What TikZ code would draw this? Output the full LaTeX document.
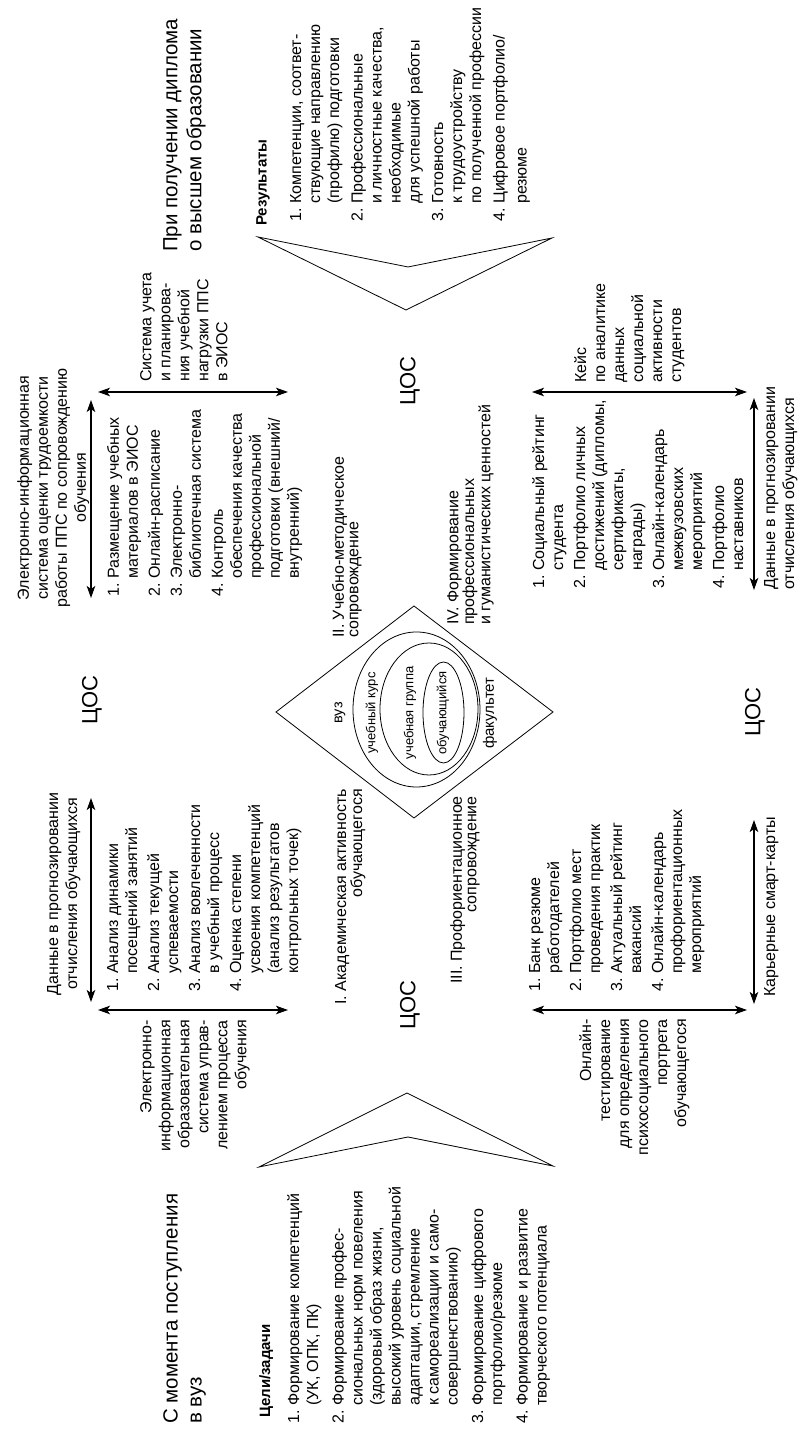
\documentclass[tikz,border=0pt]{standalone}
\usepackage{fontspec}
\setmainfont{Liberation Sans}
\usetikzlibrary{arrows.meta}

\newcommand{\lnum}[1]{\makebox[18pt][l]{#1}}
\newcommand{\lind}{\hspace*{18pt}}

\begin{document}
\begin{tikzpicture}[x=1pt, y=1pt, rotate=90, transform shape,
    txt/.style={inner sep=0pt, font=\fontsize{16}{19}\selectfont},
    stage/.style={inner sep=0pt, font=\fontsize{16}{14.5}\selectfont},
    head/.style={inner sep=0pt, font=\fontsize{20.5}{24}\selectfont, align=left, anchor=north west},
    sub/.style={inner sep=0pt, font=\fontsize{15}{18}\selectfont\bfseries, anchor=north west},
    cos/.style={inner sep=0pt, font=\fontsize{22}{24}\selectfont},
    lvl/.style={inner sep=0pt, font=\fontsize{13}{15}\selectfont},
    dbl/.style={line width=1.2pt, {Stealth[length=12pt,width=8.5pt,inset=3pt]}-{Stealth[length=12pt,width=8.5pt,inset=3pt]}},
    outline/.style={line width=0.8pt, line join=miter}]
\useasboundingbox (0,0) rectangle (1444,799);

\node[head] (startT) at (20,636) {С момента поступления\\в вуз};
\node[head] (endT) at (1192,636) {При получении диплома\\о высшем образовании};

\node[sub] (goalH) at (26,540) {Цели/задачи};
\node[txt, align=left, anchor=north west] (goalL) at (20,512) {%
  \lnum{1.}Формирование компетенций\\
  \lind(УК, ОПК, ПК)\\[6.5pt]
  \lnum{2.}Формирование профес-\\
  \lind сиональных норм повеления\\
  \lind(здоровый образ жизни,\\
  \lind высокий уровень социальной\\
  \lind адаптации, стремление\\
  \lind к самореализации и само-\\
  \lind совершенствованию)\\[6.5pt]
  \lnum{3.}Формирование цифрового\\
  \lind портфолио/резюме\\[6.5pt]
  \lnum{4.}Формирование и развитие\\
  \lind творческого потенциала};

\node[sub] (resH) at (1218,543) {Результаты};
\node[txt, align=left, anchor=north west] (resL) at (1222,509) {%
  \lnum{1.}Компетенции, соответ-\\
  \lind ствующие направлению\\
  \lind(профилю) подготовки\\[4.5pt]
  \lnum{2.}Профессиональные\\
  \lind и личностные качества,\\
  \lind необходимые\\
  \lind для успешной работы\\[4.5pt]
  \lnum{3.}Готовность\\
  \lind к трудоустройству\\
  \lind по полученной профессии\\[4.5pt]
  \lnum{4.}Цифровое портфолио/\\[3pt]
  \lind резюме};

\draw[outline] (277,540) -- (351,392) -- (278,246) -- (307,391) -- cycle;
\draw[outline] (1207,541) -- (1134,393) -- (1206,247) -- (1177,391) -- cycle;

\draw[outline] (732,523) -- (838,385) -- (732,246) -- (626,385) -- cycle;
\draw[outline] (734.5,382.5) ellipse [x radius=77.5, y radius=63.5];
\draw[outline] (735,370) ellipse [x radius=66, y radius=49];
\draw[outline] (731.5,355.5) ellipse [x radius=50.5, y radius=20.5];
\node[lvl, font=\fontsize{14.5}{16}\selectfont] (vuz) at (731,459) {вуз};
\node[lvl] (kurs) at (731,427) {учебный курс};
\node[lvl] (gruppa) at (731,389) {учебная группа};
\node[lvl] (stud) at (731,356) {обучающийся};
\node[lvl, font=\fontsize{15}{16}\selectfont] (fak) at (731,309) {факультет};

\node[stage, align=right, anchor=north east] (st1) at (655,464) {I. Академическая активность\\обучающегося};
\node[stage, align=left, anchor=north west] (st2) at (806,467) {II. Учебно-методическое\\сопровождение};
\node[stage, align=right, anchor=north east] (st3) at (648,349) {III. Профориентационное\\сопровождение};
\node[stage, align=left, anchor=north west] (st4) at (819,352) {IV. Формирование\\профессиональных\\и гуманистических ценностей};

\node[cos] (cosL) at (439,389) {ЦОС};
\node[cos] (cosR) at (1063,389) {ЦОС};
\node[cos] (cosT) at (744,707) {ЦОС};
\node[cos] (cosB) at (732,44) {ЦОС};

\coordinate (tlA) at (442,708); \coordinate (tlB) at (646,708);
\coordinate (tlC) at (434,511); \coordinate (tlD) at (434,701);
\draw[dbl] (tlA) -- (tlB);
\draw[dbl] (tlC) -- (tlD);
\node[txt, align=center, anchor=north] (tlTop) at (550,752) {Данные в прогнозировании\\отчисления обучающихся};
\node[txt, align=right, anchor=north east] (tlSide) at (424,659) {Электронно-\\информационная\\образовательная\\система управ-\\лением процесса\\обучения};
\node[txt, align=left, anchor=north west] (tlList) at (452,692) {%
  \lnum{1.}Анализ динамики\\
  \lind посещений занятий\\[3pt]
  \lnum{2.}Анализ текущей\\
  \lind успеваемости\\[3pt]
  \lnum{3.}Анализ вовлеченности\\
  \lind в учебный процесс\\[3pt]
  \lnum{4.}Оценка степени\\
  \lind усвоения компетенций\\
  \lind(анализ результатов\\
  \lind контрольных точек)};

\coordinate (trA) at (846,708); \coordinate (trB) at (1044,708);
\coordinate (trC) at (1052,511); \coordinate (trD) at (1052,701);
\draw[dbl] (trA) -- (trB);
\draw[dbl] (trC) -- (trD);
\node[txt, align=center, anchor=north] (trTop) at (956,782) {Электронно-информационная\\система оценки трудоемкости\\работы ППС по сопровождению\\обучения};
\node[txt, align=left, anchor=north west] (trSide) at (1062,659) {Система учета\\и планирова-\\ния учебной\\нагрузки ППС\\в ЭИОС};
\node[txt, align=left, anchor=north west] (trList) at (847,692) {%
  \lnum{1.}Размещение учебных\\
  \lind материалов в ЭИОС\\[3pt]
  \lnum{2.}Онлайн-расписание\\[3pt]
  \lnum{3.}Электронно-\\
  \lind библиотечная система\\[3pt]
  \lnum{4.}Контроль\\
  \lind обеспечения качества\\
  \lind профессиональной\\
  \lind подготовки (внешний/\\
  \lind внутренний)};

\coordinate (blA) at (440,45); \coordinate (blB) at (624,45);
\coordinate (blC) at (434,52); \coordinate (blD) at (434,267);
\draw[dbl] (blA) -- (blB);
\draw[dbl] (blC) -- (blD);
\node[txt, anchor=north] (blBot) at (537,35) {Карьерные смарт-карты};
\node[txt, align=right, anchor=north east] (blSide) at (425,220) {Онлайн-\\тестирование\\для определения\\психосоциального\\портрета\\обучающегося};
\node[txt, align=left, anchor=north west] (blList) at (452,270) {%
  \lnum{1.}Банк резюме\\
  \lind работодателей\\[3pt]
  \lnum{2.}Портфолио мест\\
  \lind проведения практик\\[3pt]
  \lnum{3.}Актуальный рейтинг\\
  \lind вакансий\\[3pt]
  \lnum{4.}Онлайн-календарь\\
  \lind профориентационных\\
  \lind мероприятий};

\coordinate (brA) at (854,45); \coordinate (brB) at (1046,45);
\coordinate (brC) at (1052,52); \coordinate (brD) at (1052,267);
\draw[dbl] (brA) -- (brB);
\draw[dbl] (brC) -- (brD);
\node[txt, align=left, anchor=north west] (brBot) at (854,35) {Данные в прогнозировании\\отчисления обучающихся};
\node[txt, align=left, anchor=north west] (brSide) at (1061,225) {Кейс\\по аналитике\\данных\\социальной\\активности\\студентов};
\node[txt, align=left, anchor=north west] (brList) at (855,267) {%
  \lnum{1.}Социальный рейтинг\\
  \lind студента\\[3pt]
  \lnum{2.}Портфолио личных\\
  \lind достижений (дипломы,\\
  \lind сертификаты,\\
  \lind награды)\\[3pt]
  \lnum{3.}Онлайн-календарь\\
  \lind межвузовских\\
  \lind мероприятий\\[3pt]
  \lnum{4.}Портфолио\\
  \lind наставников};
\end{tikzpicture}
\end{document}
